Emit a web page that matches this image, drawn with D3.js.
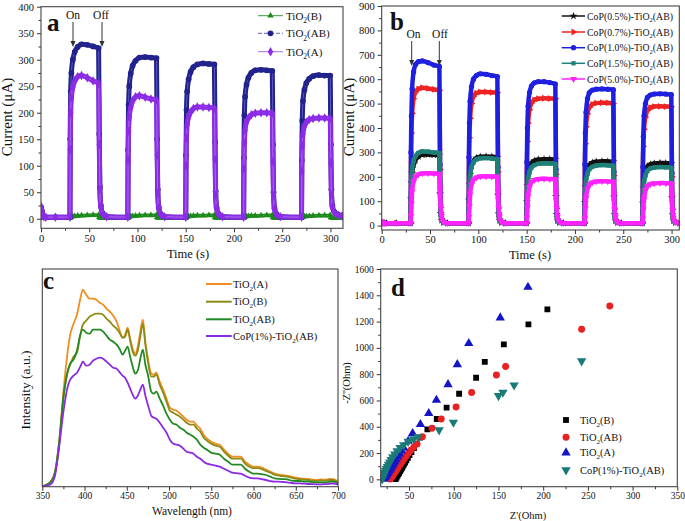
<!DOCTYPE html>
<html><head><meta charset="utf-8">
<script src="https://cdn.jsdelivr.net/npm/d3@7/dist/d3.min.js"></script>
<style>body{margin:0;background:#fff}text{font-family:"Liberation Serif","Times New Roman",Times,serif;fill:#111}</style>
</head><body>
<script>
// ---------------- DATA ----------------
// photocurrent cycles (panels a, b): light-on times and time offsets within a cycle
const cycleOn = [30, 90, 150, 210, 270];
const dtGrid = [0, 0.3, 0.8, 1.5, 3, 5, 8, 12, 18, 24, 29.7, 30.4, 31, 32, 34, 38];
const leadT = [0, 1, 2, 3, 5, 15];

// panel a
const aNames = ["TiO2(B)", "TiO2(AB)", "TiO2(A)"];
const aLeadB = [1, 1, 1, 1, 1, 1];
const aLeadAB = [22, 14, 6, 4, 3, 3];
const aLeadA = [23, 15, 6, 4, 3, 3];
const aB = [
 [1,3,3.5,4,4.5,5,5.5,6,6.5,7,7,3,2,1.5,1,1],
 [1,3,3.5,4,4.5,5,5.5,6,6.5,6.5,7,3,2,1.5,1,1],
 [1,3,3.5,4,4.5,5,5.5,6,6,6.5,6.5,3,2,1.5,1,1],
 [1,3,3.5,4,4.5,5,5.5,5.5,6,6.5,6.5,3,2,1.5,1,1],
 [1,3,3.5,4,4.5,4.5,5,5.5,6,6,6.5,3,2,1.5,1,1]
];
const aAB = [
 [3,150,240,275,300,315,324,329,328,325,322,160,60,25,10,4],
 [3,130,215,250,274,289,298,304,305,304,303,150,55,22,9,4],
 [3,120,205,240,263,277,286,291,293,292,291,145,52,21,9,4],
 [3,115,195,230,253,266,275,280,281,280,279,140,50,20,9,4],
 [3,110,185,222,243,256,264,269,271,270,270,140,55,25,13,8]
];
const aA = [
 [3,130,200,228,248,260,268,270,266,260,255,140,55,22,9,4],
 [3,110,165,192,210,222,230,232,229,226,224,120,48,20,8,4],
 [3,100,152,177,192,201,208,211,211,210,208,112,45,19,8,4],
 [3,95,143,167,182,190,196,199,200,200,199,108,44,18,8,4],
 [3,90,138,160,174,182,187,189,190,190,189,105,45,22,12,7]
];
const aTailT = [312];
const aTailB = [1], aTailAB = [6], aTailA = [5];
const aXTicks = [0, 50, 100, 150, 200, 250, 300];
const aYTicks = [0, 50, 100, 150, 200, 250, 300, 350, 400];

// panel b
const bNames = ["CoP(0.5%)-TiO2(AB)", "CoP(0.7%)-TiO2(AB)", "CoP(1.0%)-TiO2(AB)", "CoP(1.5%)-TiO2(AB)", "CoP(5.0%)-TiO2(AB)"];
const bLead05 = [12, 11, 10, 10, 10, 10];
const bLead07 = [18, 14, 11, 10, 10, 10];
const bLead10 = [12, 11, 10, 10, 10, 10];
const bLead15 = [12, 11, 10, 10, 10, 10];
const bLead50 = [16, 13, 11, 10, 10, 10];
const b05 = [
 [10,110,175,215,250,270,283,290,291,290,289,130,50,22,12,10],
 [10,105,170,210,245,265,277,282,283,282,280,125,48,21,12,10],
 [10,100,165,205,238,256,266,271,272,272,271,120,46,20,12,10],
 [10,95,160,200,232,249,258,262,264,263,262,118,45,20,12,10],
 [10,92,155,195,226,243,251,255,257,256,255,115,44,20,12,10]
];
const b07 = [
 [10,250,380,460,520,548,560,565,562,558,555,230,75,30,14,10],
 [10,240,360,440,500,530,543,548,548,546,545,220,72,28,13,10],
 [10,230,345,420,475,502,515,520,522,521,520,210,70,27,13,10],
 [10,220,335,405,458,485,497,502,504,503,500,205,68,26,13,10],
 [10,215,325,395,445,472,483,488,489,488,487,200,66,25,13,10]
];
const b10 = [
 [10,300,450,560,630,660,672,675,668,658,652,250,80,30,15,10],
 [10,280,420,510,570,600,615,622,620,615,610,240,75,28,14,10],
 [10,260,400,490,545,572,585,590,590,586,580,230,72,27,14,10],
 [10,250,380,465,520,545,555,559,560,559,557,220,70,26,13,10],
 [10,240,365,450,500,525,535,539,540,539,537,215,68,26,13,10]
];
const b15 = [
 [10,120,190,230,265,285,298,304,303,300,297,130,50,22,12,10],
 [10,105,165,205,240,260,271,276,277,275,272,122,47,21,12,10],
 [10,95,150,190,220,238,248,253,255,255,253,115,45,20,12,10],
 [10,90,145,183,213,231,241,246,248,247,245,110,43,19,12,10],
 [10,88,140,177,206,224,234,238,240,239,237,108,42,19,12,10]
];
const b50 = [
 [10,40,90,140,180,200,210,214,215,214,212,150,80,40,15,10],
 [10,35,80,128,168,188,197,201,202,201,200,142,75,38,15,10],
 [10,33,75,120,158,178,187,191,192,191,190,135,72,36,15,10],
 [10,30,70,113,150,168,177,181,182,181,180,128,68,34,14,10],
 [10,28,66,108,144,162,170,173,175,174,173,122,65,32,14,10]
];
const bXTicks = [0, 50, 100, 150, 200, 250, 300];
const bYTicks = [0, 100, 200, 300, 400, 500, 600, 700, 800, 900];

// panel c: PL spectra
const cNames = ["TiO2(A)", "TiO2(B)", "TiO2(AB)", "CoP(1%)-TiO2(AB)"];
const cWave = [350,355,360,365,370,375,380,383,387,391,395,398,402,406,410,414,418,422,426,430,434,438,442,445,448,451,454,457,460,463,466,469,472,475,479,482,485,489,493,497,501,505,509,513,517,521,525,529,533,537,541,545,550,555,560,565,570,575,580,585,590,595,600,605,610,615,620,625,630,635,640,645,650,655,660,665,670,675,680,685,690,695,700];
const cA = [0.5,2,5,15,45,95,135,152,163,172,188,197,192,188,188,187,184,182,178,175,171,165,155,149,152,159,148,138,133,140,155,167,145,128,113,112,114,105,97,88,79,77,76,73,70,67,65,65,61,58,52,48,45,43,42,37,33,30,30,30,25,22,20,20,19,17,15,13,12,11.5,11,10,9,8.4,8,7.7,7,6.7,7.2,7,7.7,7.5,5];
const cB = [0.5,2,5,14,42,88,115,122,130,134,152,162,166,170,172,173,173,172,168,165,161,158,153,149,150,157,146,135,131,136,150,163,142,125,110,110,112,102,94,85,76,74,72,70,67,64,62,62,58,55,49,46,43,41,40,35,31,28,28,28,23,20,18.5,18.5,17.5,15.5,14,12,11,10.5,10,9,8,7.5,7,6.7,6,5.8,6.2,6,6.7,6.5,4];
const cAB = [0.5,2,5,14,45,90,115,123,127,136,152,157,154,153,157,157,157,155,151,147,145,142,137,132,136,140,130,120,113,116,128,137,122,112,95,93,95,88,81,73,67,63,62,59,57,54,52,50,47,42,39,37,34,33,32,28,25,22,22,22,18,15,13,13,12.5,11.7,10,8.4,7.8,7.6,7.4,6,5.7,5.7,5.2,5,4.6,4.4,4.4,4.4,4.8,5,3.4];
const cCoP = [0.3,1,2.5,11,40,75,100,107,111,114,120,125,121,122,126,128,129,128,125,122,119,118,114,111,109,104,98,92,88,91,97,102,91,82,71,69,68,64,59,54,47,43,42,41,38,35,34,33,30,28,25,23,22,21,20,18,16,14,13.5,13,11,9,8.4,8.4,7.5,6.7,5.5,5,5,4.7,4.4,3.7,3.4,3.4,3,2.7,2.5,2.4,2.4,2.6,2.8,3.2,2.4];
const cXTicks = [350, 400, 450, 500, 550, 600, 650, 700];

// panel d: Nyquist plots [Z', -Z'']
const dNames = ["TiO2(B)", "TiO2(AB)", "TiO2(A)", "CoP(1%)-TiO2(AB)"];
const dB = [[35,2],[36,14],[37,26],[38,38],[39,50],[40,62],[41,74],[42,86],[43,98],[44.2,112],[45.5,127],[47,144],[48.7,163],[50.5,184],[52.7,208],[55.5,238],[58.5,272],[62.3,317],[70.5,380],[81,459],[92,545],[106,651],[125,773],[134.7,894],[156,1027],[183.5,1179],[204.7,1293]];
const dAB = [[29,2],[30,12],[31,22],[32,32],[33,42],[34,52],[35,62],[36,72],[37,83],[38.2,95],[39.5,108],[41,122],[42.7,138],[44.6,156],[46.8,176],[49.3,198],[52,222],[55.2,245],[59,268],[64.9,324],[75.7,388],[86,459],[102.6,550],[120,661],[147.7,793],[158,859],[243,1141],[274.5,1318]];
const dA = [[22,2],[23,13],[24,24],[25,35],[26,46],[27,57],[28,68],[29,79],[30,90],[31.2,103],[32.5,117],[34,133],[35.7,151],[37.5,171],[39.5,193],[41.7,216],[44,240],[49,291],[54,350],[62.7,418],[72,502],[80.6,603],[93.6,722],[104,874],[116.8,1034],[152,1229],[183,1462]];
const dCoP = [[20,2],[20.6,13],[21.2,25],[22,38],[22.8,51],[23.7,65],[24.7,80],[25.8,96],[27,113],[28.4,131],[30,150],[31.8,170],[34,192],[36.7,215],[40,240],[44,262],[49,288],[55,308],[60,322],[83.6,375],[99.6,433],[150,636],[155,661],[167.5,717],[243,900]];
const dXTicks = [50, 100, 150, 200, 250, 300, 350];
const dYTicks = [0, 200, 400, 600, 800, 1000, 1200, 1400, 1600];

// ---------------- DRAWING ----------------
const svg = d3.select("body").append("svg").attr("width", 685).attr("height", 521);
const FONT = '"Liberation Serif","Times New Roman",Times,serif';

function rich(g, x, y, str, fs, anchor) {
  const t = g.append("text").attr("x", x).attr("y", y).style("font-size", fs + "px")
    .style("font-family", FONT).attr("text-anchor", anchor || "start");
  const i = str.indexOf("TiO2");
  if (i < 0) { t.text(str); return t; }
  t.append("tspan").text(str.slice(0, i + 3));
  t.append("tspan").text("2").style("font-size", (fs * 0.68) + "px").attr("dy", fs * 0.3);
  t.append("tspan").text(str.slice(i + 4)).attr("dy", -fs * 0.3);
  return t;
}

let clipId = 0;
function panel(o) {
  const g = svg.append("g");
  const x = d3.scaleLinear().domain(o.xd).range([o.l, o.r]);
  const y = d3.scaleLinear().domain(o.yd).range([o.b, o.t]);
  const id = "clip" + (clipId++);
  g.append("clipPath").attr("id", id).append("rect")
    .attr("x", o.l).attr("y", o.t).attr("width", o.r - o.l).attr("height", o.b - o.t);
  if (o.xMinor) g.append("g").attr("transform", `translate(0,${o.b})`)
    .call(d3.axisBottom(x).tickValues(o.xMinor).tickSize(2.5).tickFormat(""))
    .call(s => s.select(".domain").remove());
  if (o.yMinor) g.append("g").attr("transform", `translate(${o.l},0)`)
    .call(d3.axisLeft(y).tickValues(o.yMinor).tickSize(2.5).tickFormat(""))
    .call(s => s.select(".domain").remove());
  const xa = g.append("g").attr("transform", `translate(0,${o.b})`)
    .call(d3.axisBottom(x).tickValues(o.xTicks).tickSize(4).tickPadding(o.xPad || 2).tickFormat(d3.format("d")))
    .call(s => s.select(".domain").remove());
  xa.selectAll("text").style("font-size", o.fs + "px").style("font-family", FONT).attr("fill", "#222");
  if (o.yTicks) {
    const ya = g.append("g").attr("transform", `translate(${o.l},0)`)
      .call(d3.axisLeft(y).tickValues(o.yTicks).tickSize(4).tickPadding(o.yPad || 3).tickFormat(d3.format("d")))
      .call(s => s.select(".domain").remove());
    ya.selectAll("text").style("font-size", o.fs + "px").style("font-family", FONT).attr("fill", "#222");
  }
  g.selectAll(".tick line").attr("stroke", "#333");
  const plot = g.append("g").attr("clip-path", `url(#${id})`);
  g.append("rect").attr("x", o.l).attr("y", o.t).attr("width", o.r - o.l).attr("height", o.b - o.t)
    .attr("fill", "none").attr("stroke", "#444").attr("stroke-width", 1.1);
  return { g, plot, x, y };
}

function buildSeries(lead, cycles, tailT, tail) {
  const pts = leadT.map((t, i) => [t, lead[i]]);
  cycles.forEach((row, k) => row.forEach((v, j) => pts.push([cycleOn[k] + dtGrid[j], v])));
  (tailT || []).forEach((t, i) => pts.push([t, tail[i]]));
  return pts;
}

function sym(type, size, rot) {
  return { path: d3.symbol().type(type).size(size)(), rot: rot || 0 };
}

function drawPC(P, pts, color, lineColor, s, width) {
  const line = d3.line().x(d => P.x(d[0])).y(d => P.y(d[1])).curve(d3.curveMonotoneX);
  P.plot.append("path").attr("d", line(pts)).attr("fill", "none")
    .attr("stroke", color).attr("stroke-width", width).attr("stroke-linejoin", "round");
  P.plot.append("path").attr("d", line(pts)).attr("fill", "none")
    .attr("stroke", lineColor).attr("stroke-width", 0.8);
  P.plot.selectAll(null).data(pts).join("path").attr("d", s.path)
    .attr("transform", d => `translate(${P.x(d[0])},${P.y(d[1])}) rotate(${s.rot})`)
    .attr("fill", color);
}

function letter(g, x, y, s) {
  g.append("text").attr("x", x).attr("y", y).text(s).style("font-size", "25px")
    .style("font-weight", "bold").style("font-family", FONT).attr("fill", "#111");
}

// ----- panel a -----
const A = panel({ l: 41, r: 343, t: 6.7, b: 228.3, xd: [0, 313], yd: [-18, 400], fs: 10.5,
  xTicks: aXTicks, xMinor: d3.range(25, 313, 50), yTicks: aYTicks, yMinor: d3.range(25, 400, 50) });
const aColors = ["#1b8a1b", "#22228c", "#8c2be6"];
const aSyms = [sym(d3.symbolTriangle, 18), sym(d3.symbolCircle, 26), sym(d3.symbolDiamond, 26)];
drawPC(A, buildSeries(aLeadB, aB, aTailT, aTailB), aColors[0], "#4caf4c", aSyms[0], 3.5);
drawPC(A, buildSeries(aLeadAB, aAB, aTailT, aTailAB), aColors[1], "#6a6ad0", aSyms[1], 5);
drawPC(A, buildSeries(aLeadA, aA, aTailT, aTailA), aColors[2], "#b27cf0", aSyms[2], 5);
aNames.forEach((n, i) => {
  const yy = [15.7, 33.3, 51.7][i];
  A.g.append("line").attr("x1", 258).attr("x2", 283).attr("y1", yy).attr("y2", yy)
    .attr("stroke", i === 0 ? "#3a9a3a" : (i === 1 ? "#6060c0" : "#a070e8")).attr("stroke-width", 1)
    .attr("stroke-dasharray", i === 1 ? "4,2" : null);
  A.g.append("path").attr("d", aSyms[i].path).attr("transform", `translate(270.5,${yy})`).attr("fill", aColors[i]);
  rich(A.g, 286, yy + 4, n, 11);
});
letter(A.g, 47, 31, "a");

// ----- panel b -----
const B = panel({ l: 381.7, r: 679.3, t: 6, b: 230, xd: [0, 308], yd: [-18, 900], fs: 10.5,
  xTicks: bXTicks, xMinor: d3.range(25, 308, 50), yTicks: bYTicks, yMinor: d3.range(50, 900, 100) });
const bColors = ["#111111", "#ee2222", "#1f1fe0", "#1e8078", "#ff22ff"];
const bSyms = [sym(d3.symbolStar, 20), sym(d3.symbolTriangle, 20, 90), sym(d3.symbolCircle, 22),
  sym(d3.symbolSquare, 18), sym(d3.symbolTriangle, 20, 180)];
const bLeads = [bLead05, bLead07, bLead10, bLead15, bLead50];
const bData = [b05, b07, b10, b15, b50];
bData.forEach((d, i) => drawPC(B, buildSeries(bLeads[i], d), bColors[i], bColors[i], bSyms[i], 4.5));
bNames.forEach((n, i) => {
  const yy = [16, 32, 47.7, 63.3, 79][i];
  B.g.append("line").attr("x1", 561.7).attr("x2", 585).attr("y1", yy).attr("y2", yy)
    .attr("stroke", bColors[i]).attr("stroke-width", 1.5);
  B.g.append("path").attr("d", bSyms[i].path).attr("transform", `translate(573.5,${yy}) rotate(${bSyms[i].rot})`).attr("fill", bColors[i]);
  rich(B.g, 587, yy + 3.5, n, 9.8);
});
letter(B.g, 390, 30, "b");

// On / Off arrows
function arrow(g, x, y1, y2) {
  g.append("line").attr("x1", x).attr("x2", x).attr("y1", y1).attr("y2", y2 - 4).attr("stroke", "#333").attr("stroke-width", 1);
  g.append("path").attr("d", `M${x - 2.5},${y2 - 6}L${x + 2.5},${y2 - 6}L${x},${y2}Z`).attr("fill", "#333");
}
function note(g, x, y, s) {
  g.append("text").attr("x", x).attr("y", y).attr("text-anchor", "middle").text(s)
    .style("font-size", "11.5px").style("font-family", FONT);
}
note(A.g, 73, 19, "On"); note(A.g, 101, 19, "Off");
arrow(A.g, 73, 22, 47); arrow(A.g, 102, 22, 47);
note(B.g, 413.5, 38, "On"); note(B.g, 440, 38, "Off");
arrow(B.g, 411.7, 41, 66); arrow(B.g, 439.3, 41, 66);

// ----- panel c -----
const C = panel({ l: 42.3, r: 338, t: 269, b: 486.7, xd: [350, 700], yd: [0, 217.7], fs: 9.5,
  xTicks: cXTicks, xMinor: d3.range(375, 700, 50) });
const cColors = ["#f08e22", "#8b8b16", "#238a23", "#8a2be2"];
const cData = [cA, cB, cAB, cCoP];
const cLine = d3.line().x((d, i) => C.x(cWave[i])).y(d => C.y(d)).curve(d3.curveMonotoneX);
cData.forEach((d, i) => {
  C.plot.append("path").attr("d", cLine(d)).attr("fill", "none").attr("stroke", cColors[i]).attr("stroke-width", 1.8);
});
cNames.forEach((n, i) => {
  const yy = [284, 301.7, 319.3, 336][i];
  C.g.append("line").attr("x1", 206).attr("x2", 231.7).attr("y1", yy).attr("y2", yy)
    .attr("stroke", cColors[i]).attr("stroke-width", 2);
  rich(C.g, 233, yy + 3.5, n, 10.5);
});
letter(C.g, 43, 289, "c");

// ----- panel d -----
const D = panel({ l: 380.7, r: 677.3, t: 269, b: 486.7, xd: [18.3, 350], yd: [-56, 1600], fs: 9.5,
  xTicks: dXTicks, xMinor: d3.range(25, 350, 50), yTicks: dYTicks, yMinor: d3.range(100, 1600, 200) });
const dColors = ["#000000", "#e82222", "#1515c8", "#1a7a78"];
const dSyms = [sym(d3.symbolSquare, 34), sym(d3.symbolCircle, 38), sym(d3.symbolTriangle, 38), sym(d3.symbolTriangle, 38, 180)];
const dData = [dB, dAB, dA, dCoP];
dData.forEach((d, i) => {
  D.plot.selectAll(null).data(d).join("path").attr("d", dSyms[i].path)
    .attr("transform", p => `translate(${D.x(p[0])},${D.y(p[1])}) rotate(${dSyms[i].rot})`)
    .attr("fill", dColors[i]);
});
dNames.forEach((n, i) => {
  const yy = [420, 437.3, 452.7, 470][i];
  D.g.append("path").attr("d", dSyms[i].path).attr("transform", `translate(566,${yy}) rotate(${dSyms[i].rot})`).attr("fill", dColors[i]);
  rich(D.g, 580, yy + 3.5, n, 10.5);
});
letter(D.g, 391, 296, "d");

// ----- axis titles -----
function title(x, y, str, fs, rot) {
  svg.append("text").attr("transform", `translate(${x},${y}) rotate(${rot || 0})`)
    .attr("text-anchor", "middle").text(str).style("font-size", fs + "px").style("font-family", FONT);
}
title(12, 117, "Current (μA)", 15, -90);
title(188, 258, "Time (s)", 12.5);
title(354, 117, "Current (μA)", 15, -90);
title(530, 259, "Time (s)", 12.5);
title(192, 515, "Wavelength (nm)", 11.5);
title(30, 390, "Intensity (a.u.)", 13.5, -90);
title(528, 519, "Z'(Ohm)", 10.5);
title(350, 383, "-Z''(Ohm)", 10.5, -90);
</script>
</body></html>
